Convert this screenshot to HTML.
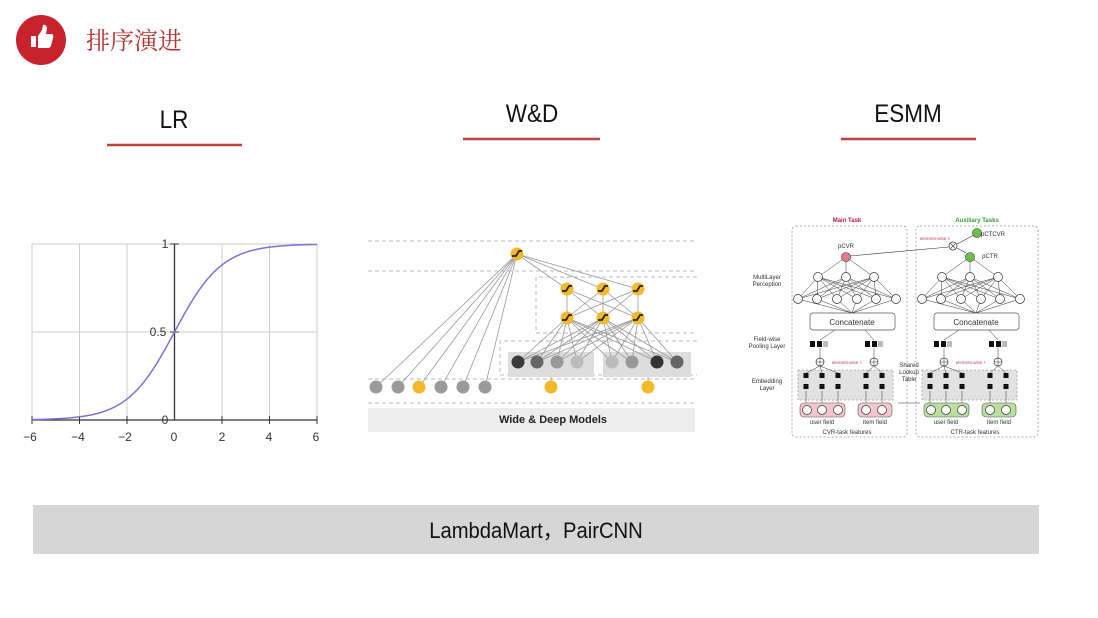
<!DOCTYPE html>
<html><head><meta charset="utf-8"><style>
html,body{margin:0;padding:0;background:#fff;}
body{width:1098px;height:618px;position:relative;overflow:hidden;font-family:"Liberation Sans",sans-serif;}
svg{position:absolute;left:0;top:0;}
</style></head><body>
<svg id="s" width="1098" height="618" viewBox="0 0 1098 618" font-family="Liberation Sans, sans-serif">
<!-- header -->
<circle cx="41" cy="40" r="25" fill="#c8232c"/>
<path d="M31 47 L31 36 L36 36 L36 47 Z M38 47 L38 36 L42 30 L43 25 Q46 24 47 28 L46 34 L52 34 Q54 35 53 38 L51 46 Q50 48 48 48 L38 48 Z" fill="#fff"/>
<text x="86" y="49" font-size="24" fill="#b5302f" font-family="Noto Serif CJK SC, serif">排序演进</text>
<!-- titles -->
<text x="174" y="128" font-size="25" text-anchor="middle" fill="#111" transform="translate(174 0) scale(0.9 1) translate(-174 0)">LR</text>
<line x1="107" y1="145" x2="242" y2="145" stroke="#c0413e" stroke-width="2.5"/>
<text x="532" y="122" font-size="25" text-anchor="middle" fill="#111" transform="translate(532 0) scale(0.9 1) translate(-532 0)">W&amp;D</text>
<line x1="463" y1="139" x2="600" y2="139" stroke="#c0413e" stroke-width="2.5"/>
<text x="908" y="122" font-size="25" text-anchor="middle" fill="#111" transform="translate(908 0) scale(0.9 1) translate(-908 0)">ESMM</text>
<line x1="841" y1="139" x2="976" y2="139" stroke="#c0413e" stroke-width="2.5"/>
<!-- LR plot -->
<g stroke="#ccc" stroke-width="1">
<line x1="32" y1="244" x2="317" y2="244"/><line x1="32" y1="332" x2="317" y2="332"/>
<line x1="32" y1="244" x2="32" y2="420"/><line x1="79.5" y1="244" x2="79.5" y2="420"/>
<line x1="127" y1="244" x2="127" y2="420"/><line x1="222" y1="244" x2="222" y2="420"/>
<line x1="269.5" y1="244" x2="269.5" y2="420"/><line x1="317" y1="244" x2="317" y2="420"/>
</g>
<line x1="32" y1="420" x2="317" y2="420" stroke="#333" stroke-width="1.3"/>
<line x1="174.5" y1="244" x2="174.5" y2="420" stroke="#333" stroke-width="1.3"/>
<g stroke="#333" stroke-width="1"><line x1="32" y1="416" x2="32" y2="424"/><line x1="79.5" y1="416" x2="79.5" y2="424"/><line x1="127" y1="416" x2="127" y2="424"/><line x1="222" y1="416" x2="222" y2="424"/><line x1="269.5" y1="416" x2="269.5" y2="424"/><line x1="317" y1="416" x2="317" y2="424"/><line x1="170" y1="244" x2="179" y2="244"/><line x1="170" y1="332" x2="179" y2="332"/></g>
<polyline id="sig" fill="none" stroke="#7b72d6" stroke-width="1.5" points="32,419.6 55.75,418.8 79.5,416.8 103.25,411.7 127,399.1 138.9,388 150.75,372.7 162.6,353.5 174.5,332 186.4,310.5 198.25,291.3 210.1,276 222,264.9 245.75,252.3 269.5,247.2 293.25,245.2 317,244.4"/>
<g font-size="12" fill="#333" text-anchor="middle">
<text x="30" y="441">−6</text><text x="78" y="441">−4</text><text x="125" y="441">−2</text><text x="174" y="441">0</text><text x="222" y="441">2</text><text x="269" y="441">4</text><text x="316" y="441">6</text>
<text x="165" y="248">1</text><text x="158" y="336">0.5</text><text x="165" y="424">0</text>
</g>
<!-- W&D -->
<g id="wd"></g>
<rect x="368" y="408" width="327" height="24" fill="#ededed"/>
<text x="553" y="423" font-size="11" font-weight="bold" text-anchor="middle" fill="#222">Wide &amp; Deep Models</text>
<!-- ESMM -->
<g id="es"></g>
<g font-size="6" fill="#333" text-anchor="middle">
<text x="847" y="222" fill="#b02040" font-weight="bold">Main Task</text>
<text x="977" y="222" fill="#3a9a3a" font-weight="bold">Auxiliary Tasks</text>
<text x="846" y="248">pCVR</text>
<text x="993" y="236">pCTCVR</text>
<text x="990" y="258">pCTR</text>
<text x="935" y="240" fill="#c04050" font-size="4.5">element-wise ×</text>
<text x="767" y="279">MultiLayer</text><text x="767" y="286">Perception</text>
<text x="767" y="341">Field-wise</text><text x="767" y="348">Pooling Layer</text>
<text x="767" y="383">Embedding</text><text x="767" y="390">Layer</text>
<text x="909" y="367">Shared</text><text x="909" y="374">Lookup</text><text x="909" y="381">Table</text>
<text x="852" y="325" font-size="8">Concatenate</text><text x="976" y="325" font-size="8">Concatenate</text>
<text x="822" y="424">user field</text><text x="875" y="424">item field</text>
<text x="946" y="424">user field</text><text x="999" y="424">item field</text>
<text x="847" y="434">CVR-task features</text><text x="975" y="434">CTR-task features</text>
<text x="847" y="364" fill="#c04050" font-size="4.5">element-wise +</text><text x="971" y="364" fill="#c04050" font-size="4.5">element-wise +</text>
</g>
<!-- bottom bar -->
<rect x="33" y="505" width="1006" height="49" fill="#d6d6d6"/>
<text x="536" y="538" font-size="22" text-anchor="middle" fill="#111" transform="translate(536 0) scale(0.92 1) translate(-536 0)">LambdaMart，PairCNN</text>
</svg>
<script>
var NS="http://www.w3.org/2000/svg";
function el(p,t,a){var e=document.createElementNS(NS,t);for(var k in a)e.setAttribute(k,a[k]);p.appendChild(e);return e;}
var pts=[];for(var t=-6;t<=6.0001;t+=0.05){var s=1/(1+Math.exp(-t));pts.push((174.5+23.75*t).toFixed(2)+","+(420-176*s).toFixed(2));}
document.getElementById("sig").setAttribute("points",pts.join(" "));
var wd=document.getElementById("wd");
var dash={stroke:"#bbb","stroke-width":1,"stroke-dasharray":"4 3",fill:"none"};
[241,271,379,403].forEach(function(y){el(wd,"line",Object.assign({x1:368,y1:y,x2:697,y2:y},dash));});
el(wd,"path",Object.assign({d:"M697 277 L536 277 L536 333 L697 333"},dash));
el(wd,"path",Object.assign({d:"M697 341 L500 341 L500 375 L697 375"},dash));
el(wd,"rect",{x:508,y:352,width:86,height:25,fill:"#ddd"});
el(wd,"rect",{x:603,y:352,width:88,height:25,fill:"#ddd"});
var hx=[567,603,638],bot=[376,398,419,441,463,485],emb=[518,537,557,577,612,632,657,677];
var ln={stroke:"#999","stroke-width":0.8};
bot.forEach(function(x){el(wd,"line",Object.assign({x1:517,y1:254,x2:x,y2:387},ln));});
hx.forEach(function(x){el(wd,"line",Object.assign({x1:517,y1:254,x2:x,y2:289},ln));hx.forEach(function(x2){el(wd,"line",Object.assign({x1:x,y1:289,x2:x2,y2:318},ln));});emb.forEach(function(x2){el(wd,"line",Object.assign({x1:x,y1:318,x2:x2,y2:362},ln));});});
el(wd,"line",Object.assign({x1:551,y1:377,x2:551,y2:387},ln));el(wd,"line",Object.assign({x1:648,y1:377,x2:648,y2:387},ln));
var ec=["#3a3a3a","#666","#999","#bbb","#bbb","#999","#333","#666"];
emb.forEach(function(x,i){el(wd,"circle",{cx:x,cy:362,r:6.5,fill:ec[i]});});
bot.forEach(function(x,i){el(wd,"circle",{cx:x,cy:387,r:6.5,fill:i==2?"#f2b92a":"#9a9a9a"});});
[551,648].forEach(function(x){el(wd,"circle",{cx:x,cy:387,r:6.5,fill:"#f2b92a"});});
function yn(x,y){el(wd,"circle",{cx:x,cy:y,r:6.5,fill:"#f2b92a"});el(wd,"path",{d:"M"+(x-5)+" "+(y+2)+" L"+(x-1)+" "+(y+2)+" L"+(x+2)+" "+(y-3)+" L"+(x+5)+" "+(y-3),stroke:"#222","stroke-width":1.8,fill:"none"});}
yn(517,254);hx.forEach(function(x){yn(x,289);yn(x,318);});
// ESMM
var es=document.getElementById("es");
function tower(o,color,pill,w){
 el(es,"rect",{x:792+o,y:226,width:w,height:211,rx:4,fill:"none",stroke:"#999","stroke-width":0.8,"stroke-dasharray":"2 2"});
 var top=[818,846,874],b=[798,817,837,857,876,896];
 var l={stroke:"#333","stroke-width":0.5};
 b.forEach(function(x){top.forEach(function(t){el(es,"line",Object.assign({x1:x+o,y1:299,x2:t+o,y2:277},l));});el(es,"line",Object.assign({x1:852+o,y1:313,x2:x+o,y2:299},l));});
 top.forEach(function(t){el(es,"line",Object.assign({x1:t+o,y1:277,x2:846+o,y2:257},l));});
 el(es,"circle",{cx:846+o,cy:257,r:4.5,fill:color,stroke:"#333","stroke-width":0.6});
 top.concat(b).forEach(function(x,i){el(es,"circle",{cx:x+o,cy:i<3?277:299,r:4.5,fill:"#fff",stroke:"#333","stroke-width":0.7});});
 el(es,"rect",{x:810+o,y:313,width:85,height:17,rx:3,fill:"#fff",stroke:"#555","stroke-width":0.7});
 [[813,820],[868,875]].forEach(function(p){el(es,"rect",{x:p[0]-3+o,y:341,width:5,height:6,fill:"#111"});el(es,"rect",{x:p[1]-3+o,y:341,width:5,height:6,fill:"#111"});el(es,"rect",{x:p[1]+3+o,y:341,width:5,height:6,fill:"#bbb"});});
 el(es,"line",Object.assign({x1:820+o,y1:358,x2:820+o,y2:348},l));el(es,"line",Object.assign({x1:874+o,y1:358,x2:874+o,y2:348},l));
 el(es,"line",Object.assign({x1:820+o,y1:340,x2:835+o,y2:330},l));el(es,"line",Object.assign({x1:874+o,y1:340,x2:865+o,y2:330},l));
 el(es,"rect",{x:798+o,y:370,width:95,height:30,fill:"#e2e2e2",stroke:"#888","stroke-width":0.6,"stroke-dasharray":"2 2"});
 [806,822,838,866,882].forEach(function(x){el(es,"rect",{x:x-2.5+o,y:373,width:5,height:5,fill:"#111"});el(es,"rect",{x:x-2.5+o,y:384,width:5,height:5,fill:"#111"});el(es,"line",Object.assign({x1:x+o,y1:406,x2:x+o,y2:391},l));el(es,"line",Object.assign({x1:x+o,y1:373,x2:(x<850?820:874)+o,y2:366},l));});
 el(es,"rect",{x:800+o,y:403,width:45,height:14,rx:4,fill:pill,stroke:"#555","stroke-width":0.6});
 el(es,"rect",{x:858+o,y:403,width:34,height:14,rx:4,fill:pill,stroke:"#555","stroke-width":0.6});
 [807,822,838,866,882].forEach(function(x){el(es,"circle",{cx:x+o,cy:410,r:4.5,fill:"#fff",stroke:"#333","stroke-width":0.7});});
 [820,874].forEach(function(x){el(es,"circle",{cx:x+o,cy:362,r:4,fill:"#fff",stroke:"#333","stroke-width":0.7});el(es,"line",Object.assign({x1:x-4+o,y1:362,x2:x+4+o,y2:362},l));el(es,"line",Object.assign({x1:x+o,y1:358,x2:x+o,y2:366},l));});
}
tower(0,"#e8798f","#f6c6cf",115);
tower(124,"#6cc04a","#b9e0a0",122);
var l2={stroke:"#333","stroke-width":0.6};
el(es,"line",Object.assign({x1:850,y1:256,x2:949,y2:247},l2));
el(es,"line",Object.assign({x1:957,y1:244,x2:974,y2:235},l2));
el(es,"line",Object.assign({x1:957,y1:248,x2:966,y2:253},l2));
el(es,"circle",{cx:953,cy:246,r:4,fill:"#fff",stroke:"#333","stroke-width":0.7});
el(es,"path",{d:"M950.5 243.5 L955.5 248.5 M955.5 243.5 L950.5 248.5",stroke:"#333","stroke-width":0.6});
el(es,"circle",{cx:977,cy:233,r:4.5,fill:"#6cc04a",stroke:"#333","stroke-width":0.6});
el(es,"line",Object.assign({x1:898,y1:403,x2:920,y2:403},l2));
</script>
</body></html>
